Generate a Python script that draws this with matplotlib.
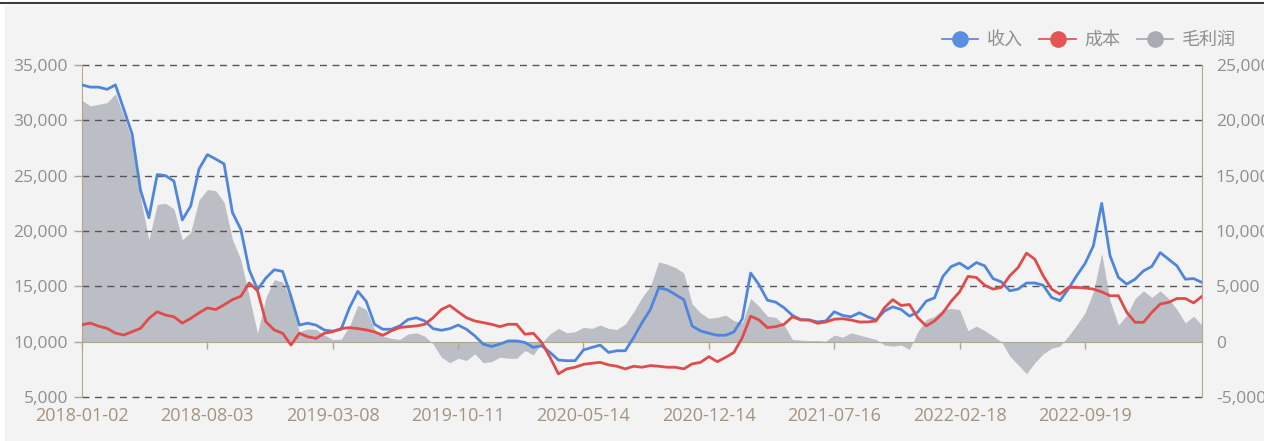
import numpy as np
import matplotlib.pyplot as plt
from matplotlib.ticker import FuncFormatter
from matplotlib.lines import Line2D
from matplotlib.patches import Rectangle

plt.rcParams['font.family'] = ['Open Sans', 'Noto Sans CJK SC', 'DejaVu Sans']

# category labels shown every 15 samples
tick_labels = ['2018-01-02', '2018-08-03', '2019-03-08', '2019-10-11', '2020-05-14',
               '2020-12-14', '2021-07-16', '2022-02-18', '2022-09-19']
label_step = 15

# 收入 (left axis)
revenue = [33200, 33000, 33000, 32800, 33200, 31000, 28750, 23700, 21200, 25100, 25000, 24500, 21000, 22250, 25600, 26900,
           26500, 26060, 21670, 20150, 16500, 14700, 15750, 16500, 16350, 14100, 11500, 11670, 11500, 11050, 10950,
           11120, 13060, 14550, 13650, 11570, 11120, 11120, 11420, 12000, 12160, 11870, 11180, 11030, 11180, 11500,
           11120, 10520, 9780, 9570, 9780, 10070, 10070, 9930, 9480, 9630, 9030, 8340, 8280, 8280, 9250,
           9480, 9690, 9030, 9180, 9180, 10370, 11720, 12910, 14850, 14700, 14250, 13800, 11420, 10970, 10760,
           10580, 10580, 10880, 12070, 16200, 15150, 13750, 13570, 13060, 12370, 12000, 11960, 11780, 11870, 12700,
           12370, 12250, 12610, 12250, 11960, 12760, 13150, 12910, 12310, 12670, 13660, 13960, 15900, 16790, 17100,
           16600, 17150, 16850, 15700, 15400, 14600, 14750, 15300, 15300, 15100, 14000, 13700, 14750, 15950, 17050,
           18650, 22500, 17750, 15800, 15200, 15650, 16400, 16800, 18050, 17450, 16850, 15650, 15700, 15350]

# 成本 (left axis)
cost = [11530, 11680, 11400, 11200, 10770, 10600, 10900, 11200, 12100, 12700, 12400, 12250, 11680, 12100, 12600, 13050,
        12900, 13330, 13800, 14100, 15300, 14600, 11800, 11060, 10760, 9700, 10760, 10450, 10300, 10760, 10900,
        11180, 11270, 11180, 11060, 10880, 10580, 10970, 11270, 11360, 11420, 11570, 12160, 12910, 13270, 12700,
        12160, 11870, 11720, 11570, 11360, 11570, 11570, 10670, 10760, 9930, 8580, 7090, 7540, 7690, 7950,
        8050, 8130, 7900, 7780, 7540, 7780, 7690, 7840, 7780, 7690, 7690, 7540, 7990, 8130, 8650,
        8190, 8580, 9030, 10370, 12310, 11960, 11270, 11360, 11570, 12250, 11960, 11960, 11660, 11780, 12030,
        12070, 11960, 11780, 11780, 11870, 13060, 13800, 13270, 13360, 12160, 11420, 11870, 12610, 13660, 14500,
        15900, 15800, 15100, 14750, 14900, 15950, 16700, 18000, 17450, 15950, 14750, 14300, 14900, 14900, 14850,
        14750, 14500, 14150, 14150, 12650, 11750, 11750, 12650, 13400, 13550, 13900, 13900, 13500, 14100]

# 毛利润 (right axis)
profit = [21800, 21300, 21450, 21600, 22400, 20400, 18100, 13000, 9200, 12400, 12500, 12000, 9200, 9900, 12800, 13750,
          13640, 12600, 9240, 7400, 4100, 750, 4000, 5600, 5400, 3800, 900, 1150, 1100, 600, 200,
          220, 1400, 3300, 2900, 1100, 500, 300, 200, 700, 800, 500, -200, -1400, -1900, -1500,
          -1700, -1100, -1900, -1800, -1400, -1500, -1500, -800, -1200, -100, 700, 1200, 800, 900, 1300,
          1200, 1500, 1200, 1100, 1600, 2700, 4000, 5000, 7200, 7000, 6700, 6200, 3400, 2600, 2100,
          2200, 2400, 1900, 1700, 3900, 3200, 2300, 2200, 1500, 200, 150, 100, 100, 50, 600,
          400, 800, 600, 400, 200, -300, -400, -300, -700, 900, 2000, 2300, 2900, 3000, 2900,
          1000, 1400, 1000, 500, 0, -1300, -2100, -2900, -1900, -1100, -600, -400, 500, 1500, 2600,
          4500, 8000, 3700, 1500, 2400, 3900, 4600, 4000, 4600, 3900, 2900, 1700, 2300, 1500]

x = np.arange(len(revenue))
W, H = 1264, 441
axis_col = '#b3a68f'
text_col = '#8f8f8f'
fmt = FuncFormatter(lambda v, p: f'{v:,.0f}')

fig = plt.figure(figsize=(W / 100, H / 100), dpi=100, facecolor='white')
fig.patches.append(Rectangle((5 / W, 0), 1, 1 - 6 / H, transform=fig.transFigure,
                             color='#f3f3f3', zorder=-10))
fig.add_artist(Line2D([0, 1], [1 - 3 / H] * 2, color='#3c3c3c', lw=1.5))

ax = fig.add_axes([82 / W, 1 - 397 / H, 1120 / W, 332 / H])
ax2 = ax.twinx()
ax.set_zorder(ax2.get_zorder() + 1)
ax.patch.set_visible(False)
ax2.patch.set_visible(False)

ax2.fill_between(x, profit, 0, color='#bcbec5', lw=0)
ax2.set_ylim(-5000, 25000)
ax2.set_yticks(range(-5000, 25001, 5000))
ax2.yaxis.set_major_formatter(fmt)

ax.plot(x, revenue, color='#4f86dc', lw=2.0, zorder=3)
ax.plot(x, cost, color='#e04b4b', lw=2.0, zorder=3)
ax.set_ylim(5000, 35000)
ax.set_xlim(0, len(x) - 1)
ax.set_yticks(range(5000, 35001, 5000))
ax.yaxis.set_major_formatter(fmt)

for v in range(5000, 35001, 5000):
    if v != 10000:
        ax.axhline(v, color='#555555', lw=1, ls=(0, (5, 4)), zorder=1, clip_on=False)

ax.set_xticks(range(0, len(x), label_step))
ax.set_xticklabels(tick_labels)

ax.spines['bottom'].set_position(('data', 10000))
for s in ['top', 'right']:
    ax.spines[s].set_visible(False)
for s in ['top', 'left', 'bottom']:
    ax2.spines[s].set_visible(False)
ax.spines['left'].set_color(axis_col)
ax.spines['bottom'].set_color(axis_col)
ax2.spines['right'].set_color(axis_col)

ax.tick_params(axis='y', length=6, width=1, color=axis_col, pad=4,
               labelcolor=text_col, labelsize=12.5)
ax2.tick_params(axis='y', length=0, pad=10, labelcolor=text_col, labelsize=12.5)
ax.tick_params(axis='x', length=5, width=1, color=axis_col, pad=42,
               labelcolor='#a3937d', labelsize=13)

handles = [Line2D([], [], color='#5b8ee0', marker='o', markersize=11, lw=1.3, label='收入'),
           Line2D([], [], color='#e45656', marker='o', markersize=11, lw=1.3, label='成本'),
           Line2D([], [], color='#a9abb3', marker='o', markersize=11, lw=1.3, label='毛利润')]
fig.legend(handles=handles, loc='center right', bbox_to_anchor=(1236 / W, 1 - 40 / H),
           ncol=3, frameon=False, fontsize=13, handlelength=2.0, handletextpad=0.5,
           columnspacing=0.9, labelcolor=text_col, borderpad=0, borderaxespad=0)

fig.savefig('out.png', dpi=100, facecolor=fig.get_facecolor())
